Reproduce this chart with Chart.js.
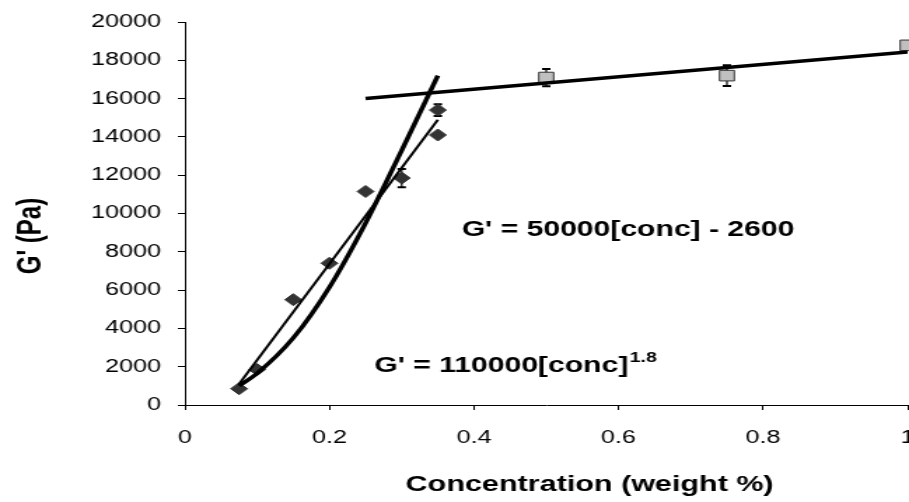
<!DOCTYPE html>
<html>
<head>
<meta charset="utf-8">
<script src="https://cdn.jsdelivr.net/npm/chart.js"></script>
<style>
    html, body { margin: 0; padding: 0; background: #fff; overflow: hidden; }
    /* the original picture is stretched sideways, so the chart is drawn narrow and widened */
    #wrap { width: 649px; height: 502px; transform: scaleX(1.4006); transform-origin: 0 0; }
</style>
</head>
<body>
<div id="wrap"><canvas id="gChart" width="649" height="502"></canvas></div>
<script>
// measured points, low concentrations (diamonds)
const concLow = [0.075, 0.1, 0.15, 0.2, 0.25, 0.3, 0.35, 0.35];
const gLow = [850, 1850, 5500, 7400, 11150, 11850, 15400, 14100];
const errLow = [null, null, null, null, null, 480, 310, null];

// measured points, high concentrations (squares)
const concHigh = [0.5, 0.75, 1.0];
const gHigh = [17100, 17200, 18780];
const errHigh = [450, 540, null];

// trend lines
const linFitX = [0.075, 0.35];
const linFitY = [1100, 14900];
const powFitX = [0.075, 0.1, 0.15, 0.2, 0.25, 0.3, 0.35];
const powFitY = [1000, 1650, 3500, 6150, 9500, 13300, 17200];
const plateauX = [0.25, 1.0];
const plateauY = [16000, 18440];

const xTickLabels = ['0', '0.2', '0.4', '0.6', '0.8', '1'];
const yTickLabels = ['0', '2000', '4000', '6000', '8000', '10000', '12000', '14000', '16000', '18000', '20000'];

const FONT = '"Liberation Sans", Arial, sans-serif';

const toXY = (xs, ys) => xs.map((x, i) => ({ x: x, y: ys[i] }));

// error bars drawn behind the markers
const errorBars = {
    id: 'errorBars',
    beforeDatasetsDraw(chart) {
        const { ctx, scales: { x, y } } = chart;
        const sets = [[concLow, gLow, errLow], [concHigh, gHigh, errHigh]];
        ctx.save();
        ctx.strokeStyle = '#000';
        sets.forEach(([xs, ys, es]) => {
            xs.forEach((cx, i) => {
                if (es[i] == null) return;
                const px = x.getPixelForValue(cx);
                const top = y.getPixelForValue(ys[i] + es[i]);
                const bot = y.getPixelForValue(ys[i] - es[i]);
                ctx.lineWidth = 1.2;
                ctx.beginPath();
                ctx.moveTo(px, top);
                ctx.lineTo(px, bot);
                ctx.stroke();
                ctx.lineWidth = 2;
                ctx.beginPath();
                ctx.moveTo(px - 3, top); ctx.lineTo(px + 3, top);
                ctx.moveTo(px - 3, bot); ctx.lineTo(px + 3, bot);
                ctx.stroke();
            });
        });
        ctx.restore();
    }
};

// equations and axis titles
const labels = {
    id: 'labels',
    afterDraw(chart) {
        const { ctx, scales: { x, y } } = chart;
        ctx.save();
        ctx.fillStyle = '#000';
        ctx.textBaseline = 'middle';
        ctx.textAlign = 'left';

        ctx.font = 'bold 21.5px ' + FONT;
        ctx.fillText("G' = 50000[conc] - 2600", x.getPixelForValue(0.383), y.getPixelForValue(9140));

        const ex = x.getPixelForValue(0.262);
        const ey = y.getPixelForValue(2040);
        const main = "G' = 110000[conc]";
        ctx.fillText(main, ex, ey);
        const w = ctx.measureText(main).width;
        ctx.font = 'bold 14px ' + FONT;
        ctx.fillText('1.8', ex + w + 1, ey - 8);

        ctx.font = 'bold 21.8px ' + FONT;
        ctx.textAlign = 'center';
        ctx.fillText('Concentration (weight %)', 421, 485);

        ctx.translate(22, 236);
        ctx.rotate(-Math.PI / 2);
        ctx.font = 'bold 24px ' + FONT;
        ctx.fillText("G' (Pa)", 0, 0);
        ctx.restore();
    }
};

new Chart(document.getElementById('gChart').getContext('2d'), {
    type: 'scatter',
    data: {
        datasets: [
            {
                label: 'linear fit',
                data: toXY(linFitX, linFitY),
                showLine: true,
                borderColor: '#000',
                borderWidth: 2,
                pointRadius: 0,
                order: 0
            },
            {
                label: 'power fit',
                data: toXY(powFitX, powFitY),
                showLine: true,
                borderColor: '#000',
                borderWidth: 3.5,
                pointRadius: 0,
                cubicInterpolationMode: 'monotone',
                order: 0
            },
            {
                label: 'plateau',
                data: toXY(plateauX, plateauY),
                showLine: true,
                borderColor: '#000',
                borderWidth: 3.5,
                pointRadius: 0,
                order: 0
            },
            {
                label: 'low',
                data: toXY(concLow, gLow),
                pointStyle: 'rectRot',
                pointRadius: 6,
                backgroundColor: '#333',
                borderColor: '#333',
                borderWidth: 1,
                order: 1
            },
            {
                label: 'high',
                data: toXY(concHigh, gHigh),
                pointStyle: 'rect',
                pointRadius: 7.5,
                backgroundColor: '#c0c0c0',
                borderColor: '#333',
                borderWidth: 1,
                clip: false,
                order: 1
            }
        ]
    },
    options: {
        responsive: false,
        animation: false,
        layout: { autoPadding: false, padding: { top: 22, right: 1, bottom: 0, left: 0 } },
        plugins: {
            legend: { display: false },
            tooltip: { enabled: false }
        },
        scales: {
            x: {
                type: 'linear',
                min: 0,
                max: 1,
                ticks: {
                    stepSize: 0.2,
                    padding: 17,
                    color: '#000',
                    font: { family: FONT, size: 18 },
                    callback: (v, i) => xTickLabels[i]
                },
                grid: { drawOnChartArea: false, drawTicks: true, tickLength: 5, color: '#000' },
                border: { color: '#000', width: 1 },
                afterFit: (s) => { s.height = 97; s.paddingLeft = 0; s.paddingRight = 0; }
            },
            y: {
                type: 'linear',
                min: 0,
                max: 20000,
                ticks: {
                    stepSize: 2000,
                    padding: 12,
                    color: '#000',
                    font: { family: FONT, size: 18 },
                    callback: (v, i) => yTickLabels[i]
                },
                grid: { drawOnChartArea: false, drawTicks: true, tickLength: 5, color: '#000' },
                border: { color: '#000', width: 1 },
                afterFit: (s) => { s.width = 132; s.paddingTop = 0; s.paddingBottom = 0; }
            }
        }
    },
    plugins: [errorBars, labels]
});
</script>
</body>
</html>
